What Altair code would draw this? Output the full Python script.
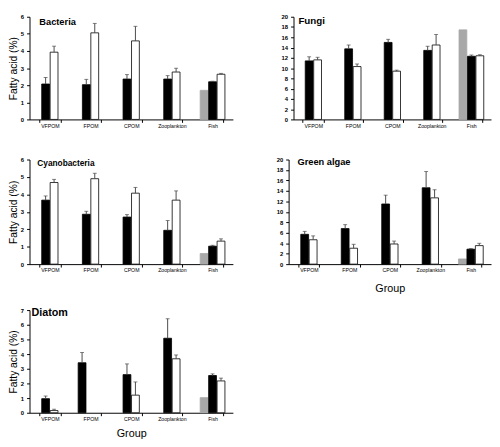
import altair as alt
import pandas as pd

groups = ["VFPOM", "FPOM", "CPOM", "Zooplankton", "Fish"]
series_names = ["grey", "black", "white"]
slots = ["s0", "s1", "s2", "s3", "s4"]

panel_titles = ["Bacteria", "Fungi", "Cyanobacteria", "Green algae", "Diatom"]
y_axis_title = "Fatty acid (%)"
x_axis_title = "Group"

# Bacteria
bacteria_black = [2.07, 2.03, 2.36, 2.36, 2.20]
bacteria_black_se = [0.38, 0.31, 0.26, 0.20, 0.03]
bacteria_white = [3.93, 5.06, 4.59, 2.77, 2.64]
bacteria_white_se = [0.35, 0.55, 0.85, 0.22, 0.05]
bacteria_grey_fish = 1.70

# Fungi
fungi_black = [11.4, 13.75, 15.0, 13.45, 12.3]
fungi_black_se = [0.8, 0.75, 0.6, 0.8, 0.25]
fungi_white = [11.6, 10.3, 9.4, 14.5, 12.4]
fungi_white_se = [0.5, 0.5, 0.2, 2.05, 0.2]
fungi_grey_fish = 17.45

# Cyanobacteria
cyano_black = [3.67, 2.86, 2.70, 1.94, 1.03]
cyano_black_se = [0.24, 0.17, 0.14, 0.56, 0.05]
cyano_white = [4.68, 4.90, 4.07, 3.67, 1.32]
cyano_white_se = [0.18, 0.31, 0.33, 0.53, 0.13]
cyano_grey_fish = 0.61

# Green algae
green_black = [5.7, 6.8, 11.5, 14.6, 2.86]
green_black_se = [0.56, 0.75, 1.68, 3.1, 0.12]
green_white = [4.66, 3.04, 3.85, 12.67, 3.54]
green_white_se = [0.74, 0.75, 0.56, 1.55, 0.44]
green_grey_fish = 0.99

# Diatom
diatom_black = [0.96, 3.41, 2.60, 5.08, 2.54]
diatom_black_se = [0.18, 0.70, 0.73, 1.33, 0.11]
diatom_white = [0.15, None, 1.20, 3.68, 2.17]
diatom_white_se = [0.09, None, 0.90, 0.26, 0.19]
diatom_grey_fish = 1.03

default_black_slots = ["s1", "s1", "s1", "s1", "s2"]
default_white_slots = ["s3", "s3", "s3", "s3", "s4"]
diatom_black_slots = ["s1", "s0", "s1", "s1", "s2"]


def make_df(black, black_se, white, white_se, grey_fish, black_slots=default_black_slots):
    rows = []
    for i, g in enumerate(groups):
        if g == "Fish":
            rows.append(dict(group=g, series="grey", slot="s0", value=grey_fish, hi=None))
        if black[i] is not None:
            rows.append(dict(group=g, series="black", slot=black_slots[i],
                             value=black[i], hi=black[i] + black_se[i]))
        if white[i] is not None:
            rows.append(dict(group=g, series="white", slot=default_white_slots[i],
                             value=white[i], hi=white[i] + white_se[i]))
    return pd.DataFrame(rows)


FONT = "Liberation Sans"
ERR = "#4a4a4a"


def panel(df, title, ymax, ystep, width, height, pad_inner, ytitle, xtitle,
          tfs, tdx, tdy, xtitle_pad=6):
    xaxis = alt.Axis(labelAngle=0, tickBand="extent", tickSize=3, labelPadding=1,
                     labelFontSize=5.3, labelColor="black", domainColor="black",
                     tickColor="black", titleFontSize=11, titleFontWeight="normal",
                     titleColor="black", titlePadding=xtitle_pad)
    yaxis = alt.Axis(values=list(range(0, ymax + 1, ystep)), format="d", grid=False,
                     tickSize=3, labelPadding=3, labelFontSize=6, labelFontWeight="bold",
                     labelColor="black", domainColor="black", tickColor="black",
                     titleFontSize=10.5, titleFontWeight="normal", titleColor="black",
                     titlePadding=2)
    xscale = alt.Scale(domain=groups, paddingInner=pad_inner, paddingOuter=pad_inner / 2)
    x = alt.X("group:N", sort=groups, scale=xscale, axis=xaxis,
              title=xtitle if xtitle else None)
    xo = alt.XOffset("slot:N", scale=alt.Scale(domain=slots, paddingInner=0, paddingOuter=0))
    yscale = alt.Scale(domain=[0, ymax], nice=False)
    ytit = ytitle if ytitle else None
    base = alt.Chart(df)
    bars = base.mark_bar(width=8, strokeWidth=0.8).encode(
        x=x, xOffset=xo,
        y=alt.Y("value:Q", scale=yscale, axis=yaxis, title=ytit),
        fill=alt.Fill("series:N", scale=alt.Scale(domain=series_names,
                      range=["#a8a8a8", "#000000", "#ffffff"]), legend=None),
        stroke=alt.Stroke("series:N", scale=alt.Scale(domain=series_names,
                          range=["#a8a8a8", "#000000", "#000000"]), legend=None),
    )
    err = base.transform_filter("isValid(datum.hi)").mark_rule(
        color=ERR, strokeWidth=1).encode(
        x=x, xOffset=xo,
        y=alt.Y("value:Q", scale=yscale, axis=yaxis, title=ytit),
        y2="hi:Q",
    )
    cap = base.transform_filter("isValid(datum.hi)").mark_tick(
        color=ERR, thickness=1, size=4).encode(
        x=x, xOffset=xo,
        y=alt.Y("hi:Q", scale=yscale, axis=yaxis, title=ytit),
    )
    txt = alt.Chart(pd.DataFrame({"t": [title]})).mark_text(
        align="left", baseline="alphabetic", fontSize=tfs, fontWeight="bold",
        color="black").encode(
        text="t:N", x=alt.value(tdx), y=alt.value(tdy))
    return alt.layer(bars, err, cap, txt).properties(width=width, height=height)


bac = panel(make_df(bacteria_black, bacteria_black_se, bacteria_white, bacteria_white_se,
                    bacteria_grey_fish), panel_titles[0], 6, 1, 208, 105, 0.48,
            y_axis_title, None, 9.5, 10, 8)
fun = panel(make_df(fungi_black, fungi_black_se, fungi_white, fungi_white_se,
                    fungi_grey_fish), panel_titles[1], 20, 2, 202, 105, 0.47,
            None, None, 10, 5, 7)
cya = panel(make_df(cyano_black, cyano_black_se, cyano_white, cyano_white_se,
                    cyano_grey_fish), panel_titles[2], 6, 1, 208, 107, 0.48,
            y_axis_title, None, 8.5, 8, 7)
gre = panel(make_df(green_black, green_black_se, green_white, green_white_se,
                    green_grey_fish), panel_titles[3], 20, 2, 207, 107, 0.48,
            None, x_axis_title, 9.5, 9, 6, xtitle_pad=10)
dia = panel(make_df(diatom_black, diatom_black_se, diatom_white, diatom_white_se,
                    diatom_grey_fish, diatom_black_slots), panel_titles[4], 7, 1, 208, 105, 0.48,
            y_axis_title, x_axis_title, 11, 2, 6)

row1 = alt.hconcat(bac, fun, spacing=47).resolve_scale(y="independent")
row2 = alt.hconcat(cya, gre, spacing=42).resolve_scale(y="independent")
lower = alt.vconcat(row2, dia, spacing=12).resolve_scale(y="independent")
chart = alt.vconcat(row1, lower, spacing=27).resolve_scale(y="independent").properties(
    padding={"left": 0, "top": 0, "right": 0, "bottom": 0}
).configure(font=FONT).configure_view(stroke="transparent")

chart.save("out.html", embed_options={"renderer": "svg", "actions": False})
